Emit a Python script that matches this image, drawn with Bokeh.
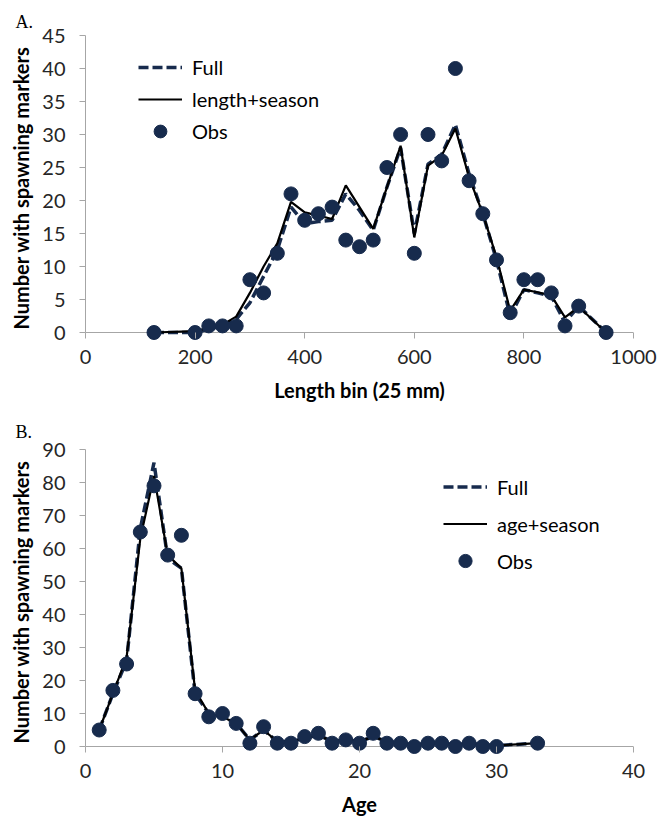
from bokeh.plotting import figure
from bokeh.models import Range1d, FixedTicker, Span, Legend, LegendItem
from bokeh.layouts import column
from bokeh.embed import file_html
from bokeh.resources import INLINE

# ---------------- Panel A data ----------------
length_bins = [125, 200, 225, 250, 275, 300, 325, 350, 375, 400, 425, 450, 475, 500, 525,
               550, 575, 600, 625, 650, 675, 700, 725, 750, 775, 800, 825, 850, 875, 900, 950]
obs_length = [0, 0, 1, 1, 1, 8, 6, 12, 21, 17, 18, 19, 14, 13, 14,
              25, 30, 12, 30, 26, 40, 23, 18, 11, 3, 8, 8, 6, 1, 4, 0]
full_length = [0, 0, 0.5, 1, 2, 4.5, 8.5, 12.5, 19, 16.5, 16.8, 17, 21, 18.5, 15.5,
               22, 28, 15, 25.5, 27, 31.5, 24, 18, 11, 2.5, 6.5, 6, 5.5, 1.5, 4, 0]
length_season = [0, 0.2, 0.7, 1.2, 2.4, 6, 10, 13.5, 19.8, 18.2, 17.7, 17.2, 22.3, 19, 15.7,
                 22, 28.3, 14.4, 25.3, 26.8, 30.9, 23.5, 18, 11.4, 3.3, 6.5, 6.1, 5.6, 2.3, 3.9, 0]
x_ticks_a = [0, 200, 400, 600, 800, 1000]
y_ticks_a = [0, 5, 10, 15, 20, 25, 30, 35, 40, 45]

# ---------------- Panel B data ----------------
ages = [1, 2, 3, 4, 5, 6, 7, 8, 9, 10, 11, 12, 13, 14, 15, 16, 17, 18, 19, 20,
        21, 22, 23, 24, 25, 26, 27, 28, 29, 30, 33]
obs_age = [5, 17, 25, 65, 79, 58, 64, 16, 9, 10, 7, 1, 6, 1, 1, 3, 4, 1, 2, 1,
           4, 1, 1, 0, 1, 1, 0, 1, 0, 0, 1]
full_age = [5, 16, 26, 66, 86, 57, 54, 16, 10, 9, 7, 2, 5, 1.5, 1.5, 2.5, 3.5, 1.5, 2, 1.5,
            3, 1.5, 1, 0.5, 1, 1, 0.5, 1, 0.5, 0.3, 1]
age_season = [5, 16, 27, 63, 82, 58, 54, 17, 10, 9, 7, 2, 5, 1.5, 1.5, 2.5, 3.5, 1.5, 2, 1.5,
              3, 1.5, 1, 0.5, 1, 1, 0.5, 1, 0.5, 0.3, 1]
x_ticks_b = [0, 10, 20, 30, 40]
y_ticks_b = [0, 10, 20, 30, 40, 50, 60, 70, 80, 90]

NAVY = "#172B4D"
AXIS_GRAY = "#A6A6A6"
FONT = "Lato"
TICK_COLOR = "#262626"
PAD_PX = 8
PLOT_H = 297


def make_panel(letter, x, obs, full, alt, alt_label, x_ticks, y_ticks, xlabel,
               height, top_border, bottom_border, title_standoff,
               legend_loc, legend_glyph_h, legend_spacing):
    xmax = x_ticks[-1]
    ymax = y_ticks[-1]
    ymin = -ymax * PAD_PX / PLOT_H
    p = figure(width=661, height=height,
               x_range=Range1d(0, xmax), y_range=Range1d(ymin, ymax),
               output_backend="svg", toolbar_location=None,
               min_border_left=85, min_border_right=28,
               min_border_top=top_border, min_border_bottom=bottom_border)
    p.outline_line_color = None
    p.xgrid.visible = False
    p.ygrid.visible = False
    p.background_fill_color = "white"
    p.border_fill_color = "white"

    # panel letter
    p.title.text = letter
    p.title.align = "left"
    p.title.offset = -70
    p.title.standoff = title_standoff
    p.title.text_font = "Liberation Serif"
    p.title.text_font_style = "normal"
    p.title.text_font_size = "18px"
    p.title.text_color = "black"

    # x axis (its line is replaced by a span at y=0)
    xa = p.xaxis[0]
    xa.ticker = FixedTicker(ticks=x_ticks)
    xa.axis_line_color = None
    xa.major_tick_line_color = AXIS_GRAY
    xa.major_tick_in = PAD_PX
    xa.major_tick_out = -2
    xa.minor_tick_line_color = None
    xa.major_label_standoff = 9
    xa.major_label_text_font = FONT
    xa.major_label_text_font_size = "20px"
    xa.major_label_text_color = TICK_COLOR
    xa.axis_label = xlabel
    xa.axis_label_text_font = FONT
    xa.axis_label_text_font_style = "bold"
    xa.axis_label_text_font_size = "20px"
    xa.axis_label_text_color = "black"
    xa.axis_label_standoff = 11

    ya = p.yaxis[0]
    ya.ticker = FixedTicker(ticks=y_ticks)
    ya.bounds = (0, ymax)
    ya.axis_line_color = AXIS_GRAY
    ya.major_tick_line_color = AXIS_GRAY
    ya.major_tick_in = 0
    ya.major_tick_out = 6
    ya.minor_tick_line_color = None
    ya.major_label_standoff = 14
    ya.major_label_text_font = FONT
    ya.major_label_text_font_size = "20px"
    ya.major_label_text_color = TICK_COLOR
    ya.axis_label = "Number with spawning markers"
    ya.axis_label_text_font = FONT
    ya.axis_label_text_font_style = "bold"
    ya.axis_label_text_font_size = "20px"
    ya.axis_label_text_color = "black"
    ya.axis_label_standoff = 6

    p.add_layout(Span(location=0, dimension="width", line_color=AXIS_GRAY,
                      line_width=1.2, level="underlay"))

    r_full = p.line(x, full, line_color=NAVY, line_width=3.5, line_dash="10 4")
    r_alt = p.line(x, alt, line_color="black", line_width=2.2)
    r_obs = p.scatter(x, obs, marker="circle", size=14, fill_color=NAVY,
                      line_color=NAVY)

    legend = Legend(items=[LegendItem(label="Full", renderers=[r_full]),
                           LegendItem(label=alt_label, renderers=[r_alt]),
                           LegendItem(label="Obs", renderers=[r_obs])],
                    location=legend_loc, padding=0, margin=0,
                    spacing=legend_spacing, glyph_width=44,
                    glyph_height=legend_glyph_h, label_height=legend_glyph_h,
                    label_standoff=10,
                    label_text_font=FONT, label_text_font_size="20px",
                    label_text_color="black",
                    border_line_color=None, background_fill_alpha=0)
    p.add_layout(legend, "center")
    return p


pA = make_panel("A.", length_bins, obs_length, full_length, length_season,
                "length+season", x_ticks_a, y_ticks_a, "Length bin (25 mm)",
                height=412, top_border=35, bottom_border=72, title_standoff=8,
                legend_loc=(53, 193), legend_glyph_h=32, legend_spacing=0)
pB = make_panel("B.", ages, obs_age, full_age, age_season, "age+season",
                x_ticks_b, y_ticks_b, "Age",
                height=411, top_border=37, bottom_border=69, title_standoff=15,
                legend_loc=(358, 177), legend_glyph_h=33, legend_spacing=4)

layout = column(pA, pB)
open("out.html", "w").write(file_html(layout, INLINE))
